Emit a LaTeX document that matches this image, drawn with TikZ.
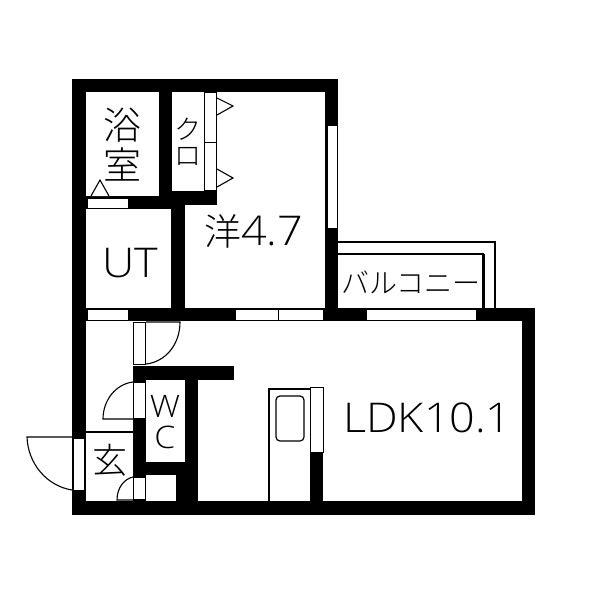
\documentclass[tikz,border=0pt]{standalone}
\usepackage{fontspec}
\newfontfamily\jp{Noto Sans CJK JP Light}
\newfontfamily\lat[FakeStretch=1.095]{Open Sans Light}
\tikzset{
 wall/.style={fill=black,draw=none},
 win/.style={fill=white,draw=black,line width=.7pt},
 thin/.style={draw=black,line width=1.2pt},
 door/.style={draw=black,line width=1.1pt},
 lbl/.style={inner sep=0pt,text=black},
}
\begin{document}
\begin{tikzpicture}[x=1pt,y=-1pt]
\useasboundingbox (0,0) rectangle (600,600);
\fill[white] (0,0) rectangle (600,600);
% balcony
\draw[thin] (338,242) -- (495,242) -- (495,308);
\draw[thin] (338,254) -- (483,254) -- (483,308);
\fill[black] (481.5,254) rectangle (484.5,308);
% outer walls
\fill[wall] (72,79) rectangle (338,92);
\fill[wall] (72,79) rectangle (86,515);
\fill[wall] (325,79) rectangle (338,321);
\fill[wall] (72,501) rectangle (535,515);
\fill[wall] (522,308) rectangle (535,515);
\fill[wall] (325,308) rectangle (535,321);
\fill[wall] (72,308) rectangle (338,321);
% inner walls
\fill[wall] (159,79) rectangle (172,205);
\fill[wall] (159,191) rectangle (217,205);
\fill[wall] (86,196) rectangle (172,209);
\fill[wall] (171,196) rectangle (185,321);
\fill[wall] (133,366) rectangle (234,380);
\fill[wall] (185,366) rectangle (198,515);
\fill[wall] (133,366) rectangle (146,501);
\fill[wall] (133,462) rectangle (198,475);
\fill[wall] (176,462) rectangle (198,501);
\fill[wall] (310,452) rectangle (323,501);
% windows
\draw[win] (87,198) rectangle (128,208);
\draw[win] (87,309.5) rectangle (128,320);
\draw[win] (235,309.5) rectangle (278.5,320);
\draw[win] (278.5,309.5) rectangle (323,320);
\draw[win] (366,309.5) rectangle (476,320);
\draw[win] (327,125) rectangle (337,228);
% door panels
\draw[win] (204.5,92) rectangle (216,142);
\draw[win] (204.5,142) rectangle (216,190);
\draw[win] (133.5,322) rectangle (145.5,364);
\draw[win] (133.5,382) rectangle (145.5,418);
\draw[win] (133.5,477) rectangle (145.5,499.5);
\draw[win] (73,438) rectangle (84,490);
\draw[win] (310,387) rectangle (323,452);
% triangles
\draw[door,fill=white] (217,98) -- (233,106) -- (217,115);
\draw[door,fill=white] (217,169) -- (233,178) -- (217,187);
\draw[door,fill=white] (91,196) -- (100,180) -- (109,196);
% door swings
\draw[door] (146,322) -- (180,322) .. controls (180,345) and (165,362) .. (146,364);
\draw[door] (133,382) .. controls (116,384) and (103,400) .. (103,419) -- (133,419);
\draw[door] (133,477) .. controls (124,479) and (117,488) .. (117,500) -- (133,500);
\draw[door] (72,490) .. controls (47,486) and (28,464) .. (27,437) -- (72,437);
\draw[thin] (86,432) -- (133,432);
% kitchen
\draw[thin] (269,501) -- (269,389) -- (310,389);
\draw[thin,rounded corners=4pt] (276,396) rectangle (304,441);
% labels
\node[lbl] (bath1) at (122,125) {\jp\fontsize{38}{38}\selectfont 浴};
\node[lbl] (bath2) at (122,164) {\jp\fontsize{38}{38}\selectfont 室};
\node[lbl] (clo1) at (187.5,129) {\jp\fontsize{27}{27}\selectfont ク};
\node[lbl] (clo2) at (187.5,156) {\jp\fontsize{27}{27}\selectfont ロ};
\node[lbl,anchor=base west] (west) at (204,245) {\jp\fontsize{37}{37}\selectfont 洋\lat\fontsize{41}{41}\selectfont 4.7};
\node[lbl,anchor=base] (ut) at (130,277) {\lat\fontsize{41}{41}\selectfont UT};
\node[lbl] (balc) at (411,282) {\jp\fontsize{28}{28}\selectfont バルコニー};
\node[lbl,anchor=base west] (ldk) at (343,432) {\lat\fontsize{41}{41}\selectfont LDK10.1};
\node[lbl] (w) at (165,406) {\lat\fontsize{31}{31}\selectfont W};
\node[lbl] (c) at (165,437) {\lat\fontsize{31}{31}\selectfont C};
\node[lbl] (gen) at (110,460) {\jp\fontsize{35}{35}\selectfont 玄};
\end{tikzpicture}
\end{document}
